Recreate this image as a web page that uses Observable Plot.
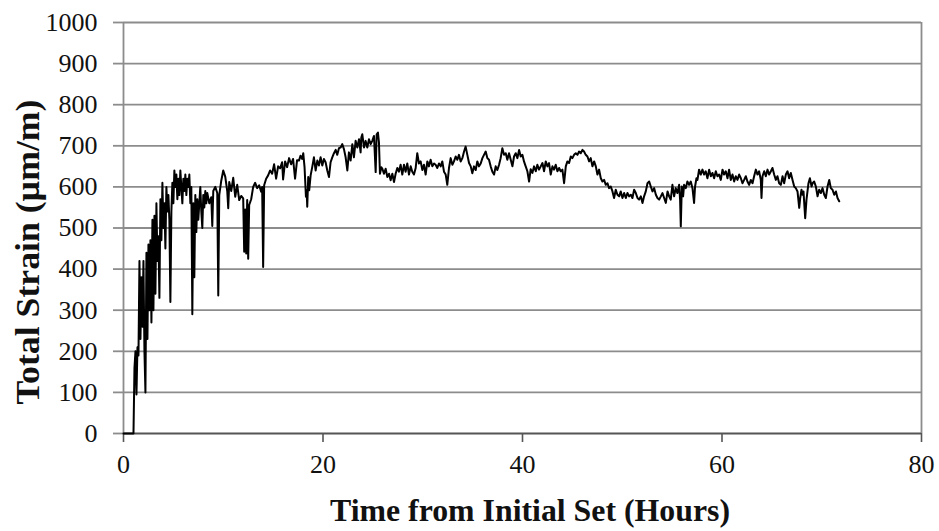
<!DOCTYPE html>
<html>
<head>
<meta charset="utf-8">
<script src="https://cdn.jsdelivr.net/npm/d3@7"></script>
<script src="https://cdn.jsdelivr.net/npm/@observablehq/plot@0.6"></script>
<style>
  html, body { margin: 0; padding: 0; background: #fff; }
  #chart svg { display: block; }
</style>
</head>
<body>
<div id="chart"></div>
<script>
// Total strain readings (µm/m) against time from initial set (hours)
const hours = [
  0, 1.0, 1.1, 1.2, 1.3, 1.4, 1.5, 1.6, 1.7, 1.8, 1.9, 2.0, 2.1, 2.2, 2.3, 2.4, 2.5, 2.6, 2.7, 2.8, 2.9,
  3.0, 3.1, 3.2, 3.3, 3.4, 3.5, 3.6, 3.7, 3.8, 3.9, 4.0, 4.1, 4.2, 4.3, 4.4, 4.5, 4.6, 4.7, 4.8, 4.9,
  5.0, 5.1, 5.2, 5.3, 5.4, 5.5, 5.6, 5.7, 5.8, 5.9, 6.0, 6.1, 6.2, 6.3, 6.4, 6.5, 6.6, 6.7, 6.8, 6.9,
  7.0, 7.1, 7.2, 7.3, 7.4, 7.5, 7.6, 7.7, 7.8, 7.9, 8.0, 8.1, 8.2, 8.3,
  8.4, 8.6, 8.8, 8.9, 9.0, 9.2, 9.4, 9.5, 9.6, 9.8, 10.0, 10.2, 10.4, 10.5, 10.6, 10.8, 11.0, 11.2, 11.4,
  11.6, 11.8, 12.0, 12.1, 12.2, 12.3, 12.4, 12.5, 12.6, 12.8, 13.0, 13.2, 13.4, 13.6, 13.8, 13.9, 14.0,
  14.1, 14.3, 14.5, 14.7, 14.9, 15.1, 15.3, 15.5, 15.7, 15.9, 16.0, 16.2, 16.4, 16.6, 16.8, 17.0, 17.2, 17.4,
  17.59, 17.75, 17.92, 18.02, 18.15, 18.29, 18.36, 18.42, 18.52, 18.62, 18.76, 18.92, 19.09, 19.26, 19.43,
  19.59, 19.76, 19.93, 20.09, 20.26, 20.43, 20.60, 20.76, 20.93, 21.10, 21.27, 21.43, 21.60, 21.77, 21.93,
  22.10, 22.27, 22.44, 22.60, 22.77, 22.94, 23.10, 23.27, 23.44, 23.61, 23.77, 23.84, 23.94, 24.11, 24.27,
  24.44, 24.61, 24.78, 24.94, 25.11, 25.28, 25.38, 25.51, 25.61, 25.71, 25.85, 25.95, 26.11, 26.28, 26.45,
  26.62, 26.78, 26.95, 27.12, 27.28,
  27.45, 27.61, 27.78, 27.95, 28.12, 28.28, 28.45, 28.62, 28.79, 28.95, 29.12, 29.29, 29.45, 29.62, 29.79,
  29.96, 30.12, 30.29, 30.46, 30.62, 30.79, 30.96, 31.13, 31.29, 31.46, 31.63, 31.80, 31.96, 32.13, 32.30,
  32.46, 32.63, 32.80, 32.97, 33.13, 33.30, 33.47, 33.63, 33.80, 33.97, 34.14, 34.30, 34.47, 34.64, 34.81,
  34.97, 35.14, 35.31, 35.47, 35.64, 35.81, 35.98, 36.14, 36.31, 36.48, 36.64, 36.81, 36.98, 37.15, 37.31,
  37.48, 37.65, 37.81, 37.98, 38.15, 38.32, 38.48, 38.65, 38.82, 38.99, 39.15, 39.32, 39.49, 39.66, 39.82,
  39.99, 40.15, 40.32, 40.49, 40.66, 40.82, 40.99, 41.16, 41.33, 41.49, 41.66, 41.83, 42.00, 42.16, 42.33,
  42.50, 42.66, 42.83, 43.00, 43.16, 43.33, 43.50, 43.67, 43.83, 44.00, 44.17, 44.34, 44.50, 44.67, 44.84,
  45.00, 45.17, 45.34, 45.51, 45.67, 45.84, 46.01, 46.17, 46.34, 46.51, 46.68, 46.84, 47.01, 47.18, 47.35,
  47.51, 47.68, 47.85, 48.01, 48.18, 48.35, 48.52, 48.68, 48.85, 49.02, 49.18, 49.35, 49.52, 49.69, 49.85,
  50.02, 50.19, 50.36, 50.52, 50.69, 50.86, 51.02, 51.19, 51.36, 51.53, 51.69, 51.86, 52.03, 52.19, 52.36,
  52.53, 52.70, 52.86, 53.03, 53.20, 53.37, 53.53, 53.70, 53.87, 54.03, 54.20, 54.37, 54.54, 54.70,
  54.86, 55.03, 55.20, 55.36, 55.53, 55.70, 55.80, 55.87, 55.97, 56.10, 56.20, 56.37, 56.53, 56.70, 56.87,
  57.04, 57.20, 57.30, 57.44, 57.54, 57.70, 57.87, 58.04, 58.21, 58.37, 58.54, 58.71, 58.88, 59.04, 59.21,
  59.38, 59.54, 59.71, 59.88, 60.05, 60.21, 60.38, 60.55, 60.71, 60.88, 61.05, 61.22, 61.38, 61.55, 61.72,
  61.89, 62.05, 62.22, 62.39, 62.55, 62.72, 62.89, 63.06, 63.22, 63.39, 63.56, 63.72, 63.89, 63.96, 64.06,
  64.23, 64.39, 64.56, 64.73, 64.90, 65.06, 65.23, 65.40, 65.56, 65.73, 65.90, 66.07, 66.23, 66.40, 66.57,
  66.73, 66.90, 67.07, 67.24, 67.40, 67.57, 67.74, 67.84, 67.97, 68.07, 68.17, 68.34, 68.47, 68.67, 68.81,
  68.98, 69.08, 69.24, 69.41, 69.58, 69.74, 69.91, 70.08, 70.25, 70.41, 70.58, 70.75, 70.91, 71.08, 71.25,
  71.42, 71.58, 71.75
];
const strain = [
  0, 0, 160, 200, 95, 210, 190, 420, 230, 380, 260, 420, 200, 100, 440, 230, 460, 300, 470, 270, 520,
  300, 530, 340, 560, 420, 480, 330, 570, 470, 610, 500, 560, 450, 600, 540, 580, 520, 320, 540, 610,
  560, 640, 600, 630, 570, 620, 580, 640, 600, 560, 620, 590, 630, 580, 620, 600, 630, 560, 600, 290,
  560, 380, 580, 490, 570, 520, 560, 600, 540, 500, 580, 550, 590, 560,
  585, 560, 575, 505, 590, 600, 585, 336, 580, 615, 640, 625, 590, 548, 612, 590, 622, 576, 605,
  568, 578, 572, 442, 545, 438, 568, 425, 556, 570, 600, 610, 597, 604, 588, 600, 405,
  604, 620, 628, 640, 632, 655, 620, 650, 645, 660, 618, 662, 648, 670, 655, 668, 620, 665,
  664, 676, 668, 682, 648, 576, 592, 552, 624, 592, 628, 648, 672, 640, 664,
  652, 672, 652, 668, 660, 640, 624, 660, 672, 682, 690, 678, 694, 696, 704,
  692, 672, 640, 684, 664, 704, 672, 712, 696, 716, 684, 720, 728, 696, 712,
  696, 716, 704, 712, 724, 636, 728, 732, 708, 632, 648, 644, 632, 644, 624,
  632, 616, 632, 612, 632,
  646, 637, 654, 630, 654, 637, 657, 630, 650, 637, 630, 646, 682, 657, 662,
  641, 654, 630, 662, 650, 666, 650, 657, 654, 646, 657, 650, 662, 637, 630,
  605, 646, 670, 654, 662, 674, 666, 678, 662, 670, 686, 698, 678, 658, 650,
  633, 650, 641, 662, 650, 657, 670, 678, 686, 670, 666, 650, 637, 630, 650,
  641, 654, 670, 694, 678, 682, 666, 682, 666, 650, 674, 682, 670, 690, 674,
  678, 662, 650, 638, 613, 643, 634, 650, 638, 654, 642, 650, 658, 638, 662,
  650, 658, 630, 650, 642, 654, 638, 646, 638, 642, 609, 650, 662, 658, 674,
  670, 678, 682, 678, 686, 682, 690, 686, 678, 674, 662, 670, 650, 662, 650,
  630, 642, 621, 613, 617, 605, 609, 597, 601, 589, 573, 593, 581, 577, 589,
  573, 585, 573, 585, 577, 581, 573, 593, 585, 573, 569, 577, 561, 577, 589,
  609, 613, 601, 589, 597, 581, 573, 569, 577, 585, 573, 561, 589, 577,
  569, 605, 577, 597, 585, 605, 569, 504, 601, 577, 605, 597, 613, 605, 613,
  597, 561, 601, 621, 617, 642, 630, 642, 630, 638, 621, 642, 626, 634, 621,
  638, 626, 630, 617, 642, 630, 638, 621, 642, 617, 630, 613, 626, 617, 630,
  621, 609, 617, 626, 613, 605, 617, 609, 626, 642, 630, 638, 617, 573, 626,
  638, 626, 642, 630, 638, 646, 630, 617, 626, 609, 605, 626, 609, 630, 638,
  621, 634, 617, 601, 597, 589, 549, 573, 593, 581, 589, 524, 569, 609, 621,
  601, 609, 613, 601, 577, 593, 585, 597, 581, 573, 601, 617, 597, 593, 581,
  589, 573, 565
];

const xTicks = [0, 20, 40, 60, 80];
const yTicks = [0, 100, 200, 300, 400, 500, 600, 700, 800, 900, 1000];
const xTitle = "Time from Initial Set (Hours)";
const yTitle = "Total Strain (µm/m)";

const readings = hours.map((h, i) => ({hour: h, strain: strain[i]}));
const gridColor = "#8c8c8c";
const serif = "'Liberation Serif', 'Times New Roman', serif";

const chart = Plot.plot({
  width: 939,
  height: 531,
  marginLeft: 123,
  marginRight: 18,
  marginTop: 22,
  marginBottom: 98,
  style: {background: "#fff", color: "#111", fontFamily: serif},
  x: {domain: [0, 80]},
  y: {domain: [0, 1000]},
  marks: [
    Plot.ruleY(yTicks, {y: d => d, stroke: gridColor, strokeWidth: 1.8}),
    Plot.ruleX([80], {stroke: gridColor, strokeWidth: 1.8}),
    Plot.ruleX([0], {stroke: gridColor, strokeWidth: 1.8}),
    Plot.axisY({ticks: yTicks, tickFormat: d => String(d), tickSize: 10, tickPadding: 16, label: null,
      stroke: gridColor, strokeWidth: 1.8, fontSize: 26, fontFamily: serif}),
    Plot.axisX({ticks: xTicks, tickFormat: d => String(d), tickSize: 9, tickPadding: 12, label: null,
      stroke: "#555", strokeWidth: 1.6, fontSize: 26, fontFamily: serif}),
    Plot.ruleY([0], {stroke: "#555", strokeWidth: 1.6}),
    Plot.line(readings, {x: "hour", y: "strain", stroke: "#000", strokeWidth: 2, strokeLinejoin: "round"})
  ]
});

const svg = d3.select(chart);

// Tick labels in a serif face at the chart's label size
svg.selectAll('g[aria-label$="tick label"] text')
  .style("font-family", serif)
  .style("font-size", "26px")
  .style("fill", "#111");

// Axis titles, placed in the margins
svg.append("text")
  .attr("transform", "translate(27,252) rotate(-90)")
  .attr("text-anchor", "middle")
  .attr("dominant-baseline", "central")
  .attr("textLength", 305)
  .attr("lengthAdjust", "spacingAndGlyphs")
  .style("font-family", serif)
  .style("font-size", "34px")
  .style("font-weight", "bold")
  .style("fill", "#111")
  .text(yTitle);
svg.append("text")
  .attr("x", 530)
  .attr("y", 510)
  .attr("text-anchor", "middle")
  .attr("dominant-baseline", "central")
  .attr("textLength", 400)
  .attr("lengthAdjust", "spacingAndGlyphs")
  .style("font-family", serif)
  .style("font-size", "32px")
  .style("font-weight", "bold")
  .style("fill", "#111")
  .text(xTitle);

document.getElementById("chart").appendChild(chart);
</script>
</body>
</html>
